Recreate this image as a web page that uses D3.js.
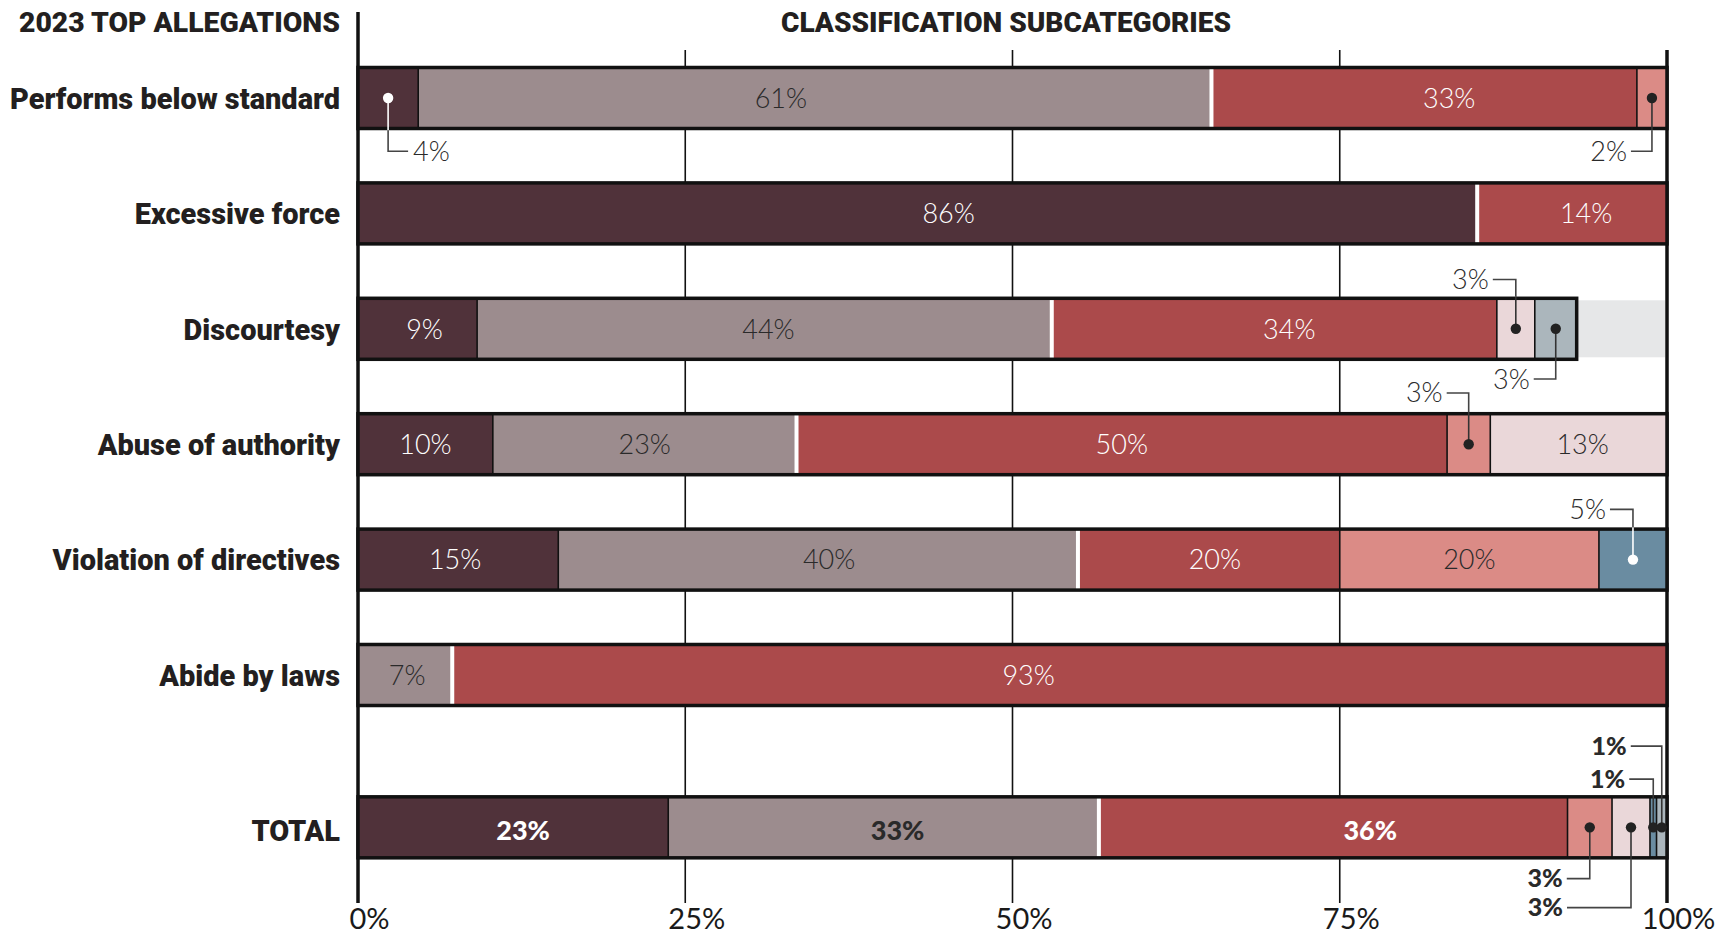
<!DOCTYPE html>
<html>
<head>
<meta charset="utf-8">
<script src="https://cdn.jsdelivr.net/npm/d3@7"></script>
<style>
  html, body { margin: 0; padding: 0; background: #fff; }
  svg { display: block; }
</style>
</head>
<body>
<svg id="chart" width="1735" height="934"></svg>
<script>
// ---------------- DATA ----------------
const categories = ["Performs below standard", "Excessive force", "Discourtesy",
  "Abuse of authority", "Violation of directives", "Abide by laws", "TOTAL"];
const subcategories = ["sub1", "sub2", "sub3", "sub4", "sub5", "sub6", "sub7"];
const subColors = ["#50323a", "#9c8c8e", "#ab4a4b", "#db8b86", "#ead7d9", "#6a8ca1", "#abb6bc"];

// shares (%) per subcategory
const performsBelowStandard = [4.6, 60.6, 32.5, 2.3, 0, 0, 0];
const excessiveForce        = [85.5, 0, 14.5, 0, 0, 0, 0];
const discourtesy           = [9.1, 43.9, 34.0, 0, 2.9, 0, 3.2];
const abuseOfAuthority      = [10.3, 23.2, 49.7, 3.3, 13.5, 0, 0];
const violationOfDirectives = [15.3, 39.7, 20.0, 19.8, 0, 5.2, 0];
const abideByLaws           = [0, 7.2, 92.8, 0, 0, 0, 0];
const total                 = [23.7, 32.9, 35.8, 3.4, 2.9, 0.5, 0.8];

// printed labels (%)
const printedPerforms  = [4, 61, 33, 2, null, null, null];
const printedExcessive = [86, null, 14, null, null, null, null];
const printedDiscourt  = [9, 44, 34, null, 3, null, 3];
const printedAbuse     = [10, 23, 50, 3, 13, null, null];
const printedViolation = [15, 40, 20, 20, null, 5, null];
const printedAbide     = [null, 7, 93, null, null, null, null];
const printedTotal     = [23, 33, 36, 3, 3, 1, 1];

const tickValues = [0, 25, 50, 75, 100];
const tickLabels = ["0%", "25%", "50%", "75%", "100%"];

const rowValues = [performsBelowStandard, excessiveForce, discourtesy,
  abuseOfAuthority, violationOfDirectives, abideByLaws, total];
const rowPrinted = [printedPerforms, printedExcessive, printedDiscourt,
  printedAbuse, printedViolation, printedAbide, printedTotal];

// ---------------- STYLE / LAYOUT CONFIG ----------------
// horizontal nudges (px) of in-bar labels, as placed in the original
const labelNudge = [
  [0, -34, 25, 0, 0, 0, 0],
  [31, 0, 14, 0, 0, 0, 0],
  [7, 4, 15, 0, 0, 0, 0],
  [0, 0, 0, 0, 4, 0, 0],
  [-3, 11, 6, 0, 0, 0, 0],
  [0, 2, -31, 0, 0, 0, 0],
  [10, 14, 37, 0, 0, 0, 0]
];
// callouts for small segments: row, subcategory, side, elbow offset, horizontal stub, dot colour
const callouts = [
  {row: 0, sub: 0, side: "below", dy: 21, dx: 20, dot: "#fff"},
  {row: 0, sub: 3, side: "below", dy: 21, dx: -21, dot: "#222"},
  {row: 2, sub: 4, side: "above", dy: 17, dx: -23, dot: "#222"},
  {row: 2, sub: 6, side: "below", dy: 18, dx: -22, dot: "#222"},
  {row: 3, sub: 3, side: "above", dy: 19, dx: -22, dot: "#222"},
  {row: 4, sub: 5, side: "above", dy: 18, dx: -23, dot: "#fff"},
  {row: 6, sub: 3, side: "below", dy: 19, dx: -23, dot: "#222"},
  {row: 6, sub: 4, side: "below", dy: 48, dx: -64, dot: "#222"},
  {row: 6, sub: 5, side: "above", dy: 16, dx: -24, dot: "#222"},
  {row: 6, sub: 6, side: "above", dy: 49, dx: -31, dot: "#222"}
];

const svg = d3.select("#chart");
const x = d3.scaleLinear().domain([0, 100]).range([358, 1667]);
const yRows = d3.scalePoint().domain(categories.slice(0, 6)).range([98, 675]);
const step = yRows.step();
function yc(i) { return i < 6 ? yRows(categories[i]) : yRows(categories[5]) + step * 1.32; }
const barH = 61;
const heavy = "Roboto, 'DejaVu Sans', sans-serif";
const light = "Lato, 'Open Sans', sans-serif";
const darkText = "#2a2a2a";
const whiteOn = new Set([0, 2, 5]);

// condense text horizontally so a reference string hits a target width
function condense(sel, refText, targetWidth) {
  const nodes = sel.nodes();
  const refNode = nodes.find(n => n.textContent === refText) || nodes[0];
  const factor = targetWidth / refNode.getComputedTextLength();
  nodes.forEach(n => {
    const w = n.getComputedTextLength();
    n.setAttribute("textLength", w * factor);
    n.setAttribute("lengthAdjust", "spacingAndGlyphs");
  });
}

// gridlines
const gridTop = 50, gridBottom = 903;
svg.append("g").selectAll("line").data([25, 50, 75]).join("line")
  .attr("x1", d => x(d)).attr("x2", d => x(d))
  .attr("y1", gridTop).attr("y2", gridBottom)
  .attr("stroke", "#111").attr("stroke-width", 1.6);
svg.append("line").attr("x1", x(0)).attr("x2", x(0)).attr("y1", 12).attr("y2", gridBottom)
  .attr("stroke", "#111").attr("stroke-width", 3.5);
svg.append("line").attr("x1", x(100)).attr("x2", x(100)).attr("y1", gridTop).attr("y2", gridBottom)
  .attr("stroke", "#111").attr("stroke-width", 3.5);

// titles
const t1 = svg.append("text").attr("x", 340).attr("y", 32).attr("text-anchor", "end")
  .attr("font-family", heavy).attr("font-weight", 900).attr("font-size", 28)
  .attr("fill", "#231f20").text("2023 TOP ALLEGATIONS");
const t2 = svg.append("text").attr("x", 1006).attr("y", 32).attr("text-anchor", "middle")
  .attr("font-family", heavy).attr("font-weight", 900).attr("font-size", 28)
  .attr("fill", "#231f20").text("CLASSIFICATION SUBCATEGORIES");
condense(t1, "2023 TOP ALLEGATIONS", 321);
condense(t2, "CLASSIFICATION SUBCATEGORIES", 450);

// category labels
const catLabels = svg.append("g").selectAll("text").data(categories).join("text")
  .attr("x", 340).attr("y", (d, i) => yc(i) + (i === 6 ? 3 : 0))
  .attr("dy", "0.36em").attr("text-anchor", "end")
  .attr("font-family", heavy).attr("font-weight", 900).attr("font-size", 30)
  .attr("fill", "#231f20").text(d => d);
condense(catLabels, "Performs below standard", 330);

// bars
const stackedRows = rowValues.map((vals, r) => {
  let acc = 0;
  return vals.map((v, i) => {
    const s = {row: r, sub: i, x0: acc, x1: acc + v, v: v, printed: rowPrinted[r][i]};
    acc += v; return s;
  }).filter(s => s.v > 0);
});

const barsG = svg.append("g");
stackedRows.forEach((segs, r) => {
  const g = barsG.append("g");
  const y0 = yc(r) - barH / 2;
  const sum = segs[segs.length - 1].x1;
  if (sum < 99.5) {
    g.append("rect").attr("x", x(sum)).attr("y", y0 + 2).attr("width", x(100) - x(sum) - 2)
      .attr("height", barH - 4).attr("fill", "#e6e7e8");
  }
  g.selectAll("rect.seg").data(segs).join("rect").attr("class", "seg")
    .attr("x", d => x(d.x0)).attr("y", y0)
    .attr("width", d => x(d.x1) - x(d.x0)).attr("height", barH)
    .attr("fill", d => subColors[d.sub]);
  const bounds = segs.slice(0, -1).map((d, i) => ({pos: d.x1, group: d.sub <= 1 && segs[i + 1].sub >= 2}));
  g.selectAll("line.sep").data(bounds).join("line").attr("class", "sep")
    .attr("x1", d => x(d.pos)).attr("x2", d => x(d.pos))
    .attr("y1", y0).attr("y2", y0 + barH)
    .attr("stroke", d => d.group ? "#fff" : "#111")
    .attr("stroke-width", d => d.group ? 4 : 1.6);
  g.append("rect").attr("x", x(0)).attr("y", y0).attr("width", x(sum) - x(0)).attr("height", barH)
    .attr("fill", "none").attr("stroke", "#111").attr("stroke-width", 3.5);
  const calloutSubs = new Set(callouts.filter(c => c.row === r).map(c => c.sub));
  g.selectAll("text.in").data(segs.filter(d => !calloutSubs.has(d.sub) && d.printed != null)).join("text")
    .attr("class", "in")
    .attr("x", d => (x(d.x0) + x(d.x1)) / 2 + labelNudge[r][d.sub])
    .attr("y", yc(r) + (r === 6 ? 3 : 0))
    .attr("dy", "0.36em").attr("text-anchor", "middle")
    .attr("font-family", light)
    .attr("font-weight", r === 6 ? 900 : 300)
    .attr("font-size", 27)
    .attr("fill", d => whiteOn.has(d.sub) ? "#fff" : darkText)
    .text(d => d.printed + "%");
});

// callouts
const cg = svg.append("g");
callouts.forEach(c => {
  const seg = stackedRows[c.row].find(s => s.sub === c.sub);
  const cx = (x(seg.x0) + x(seg.x1)) / 2;
  const cy = yc(c.row);
  const edge = c.side === "below" ? cy + barH / 2 + 1.75 : cy - barH / 2 - 1.75;
  const ey = c.side === "below" ? edge + c.dy : edge - c.dy;
  cg.append("line").attr("x1", cx).attr("x2", cx).attr("y1", cy).attr("y2", edge)
    .attr("stroke", c.dot === "#fff" ? "#fff" : "#333").attr("stroke-width", 1.6);
  cg.append("path")
    .attr("d", `M${cx},${edge}V${ey}H${cx + c.dx}`)
    .attr("fill", "none").attr("stroke", "#444").attr("stroke-width", 1.6);
  cg.append("circle").attr("cx", cx).attr("cy", cy).attr("r", 5.2).attr("fill", c.dot);
  cg.append("text")
    .attr("x", c.dx > 0 ? cx + c.dx + 5 : cx + c.dx - 4)
    .attr("y", ey).attr("dy", "0.35em")
    .attr("text-anchor", c.dx > 0 ? "start" : "end")
    .attr("font-family", light)
    .attr("font-weight", c.row === 6 ? 900 : 300)
    .attr("font-size", c.row === 6 ? 25 : 27).attr("fill", darkText)
    .text(seg.printed + "%");
});

// x axis labels
const axis = d3.axisBottom(x).tickValues(tickValues).tickSize(0)
  .tickFormat((d, i) => tickLabels[i]);
const ax = svg.append("g").attr("transform", `translate(11, 905)`).call(axis);
ax.select(".domain").remove();
ax.selectAll("text").attr("font-family", light).attr("font-weight", 400)
  .attr("font-size", 29).attr("fill", "#1a1a1a").attr("dy", "0.71em");
</script>
</body>
</html>
